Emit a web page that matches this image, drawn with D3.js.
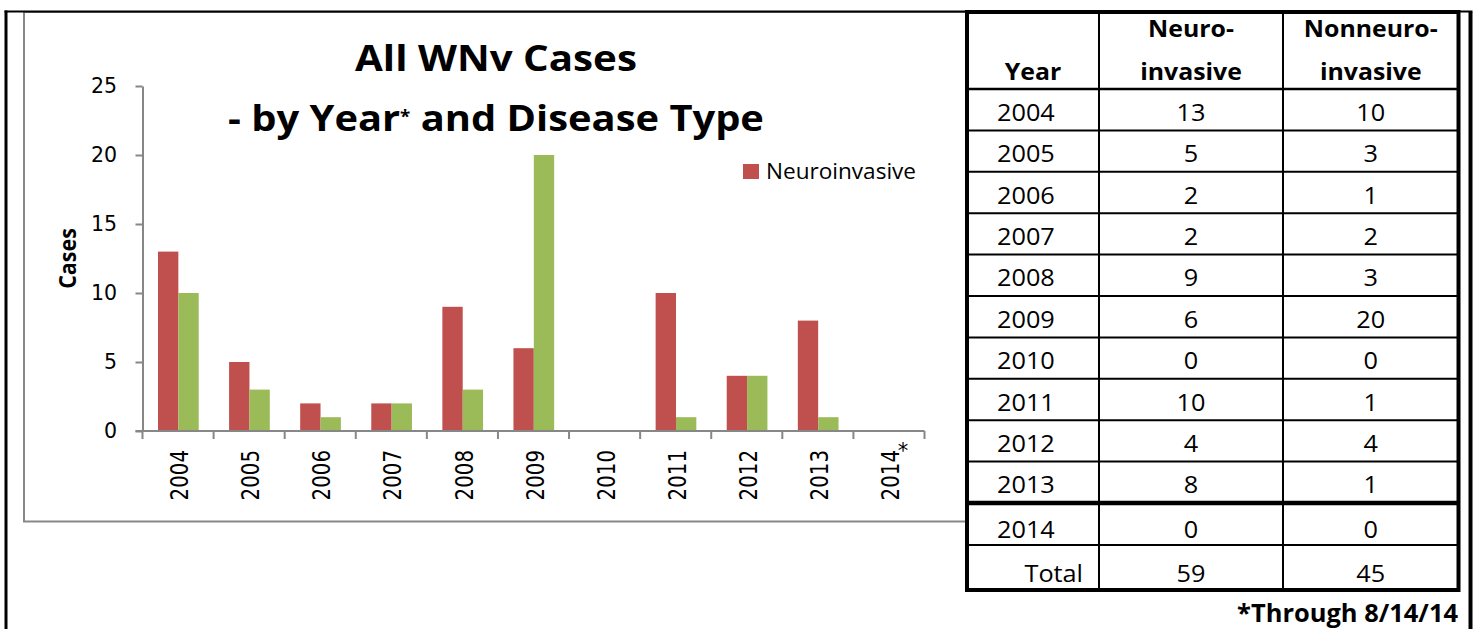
<!DOCTYPE html>
<html>
<head>
<meta charset="utf-8">
<script src="https://cdn.jsdelivr.net/npm/d3@7/dist/d3.min.js"></script>
<style>
  body { margin: 0; background: #fff; }
  svg { display: block; }
</style>
</head>
<body>
<svg id="chart" width="1479" height="629"></svg>
<script>
// ---- data ----
var years = ['2004', '2005', '2006', '2007', '2008', '2009', '2010', '2011', '2012', '2013', '2014*'];
var neuro = [13, 5, 2, 2, 9, 6, 0, 10, 4, 8, 0];
var nonneuro = [10, 3, 1, 2, 3, 20, 0, 1, 4, 1, 0];
var seriesNames = ['Neuroinvasive', 'Nonneuroinvasive'];
var legendNames = ['Neuroinvasive'];
var yTicks = [0, 5, 10, 15, 20, 25];
var tableHeads = [['Year'], ['Neuro-', 'invasive'], ['Nonneuro-', 'invasive']];
var totalLabel = 'Total';
var titleLines = ['All WNv Cases', '- by Year', '*', ' and Disease Type'];
var axisTitle = 'Cases';
var footnote = '*Through 8/14/14';

var colors = { Neuroinvasive: '#C0504D', Nonneuroinvasive: '#9BBB59' };
var SANS = "'Open Sans', sans-serif";
var AXF = "'DejaVu Sans', sans-serif";
var SX = 1.08;       // the source text is a bit wider than Open Sans
var GREY = '#878787';

var svg = d3.select('#chart');

// chart area border (grey)
svg.append('rect')
  .attr('x', 24).attr('y', 12).attr('width', 944).attr('height', 509.5)
  .attr('fill', '#fff').attr('stroke', GREY).attr('stroke-width', 2);

// scales
var x = d3.scaleBand().domain(years).range([142.5, 924.5]);
var x1 = d3.scaleBand().domain(seriesNames).range([15.5, 56.2]);
var y = d3.scaleLinear().domain([0, 25]).range([431, 86]);

// bars
var series = [neuro, nonneuro];
seriesNames.forEach(function (name, j) {
  svg.append('g').selectAll('rect')
    .data(years.map(function (yr, i) { return { yr: yr, v: series[j][i] }; }))
    .enter().append('rect')
    .attr('x', function (d) { return x(d.yr) + x1(name); })
    .attr('y', function (d) { return y(d.v); })
    .attr('width', x1.bandwidth())
    .attr('height', function (d) { return y(0) - y(d.v); })
    .attr('fill', colors[name]);
});

// y axis
var yAxis = svg.append('g')
  .attr('transform', 'translate(142.5,0)')
  .call(d3.axisLeft(y).tickValues(yTicks).tickSize(7).tickPadding(18.5).tickSizeOuter(0));
yAxis.select('.domain').attr('stroke', GREY).attr('stroke-width', 2);
yAxis.selectAll('.tick line').attr('stroke', GREY).attr('stroke-width', 2);
yAxis.selectAll('.tick text')
  .attr('font-family', AXF).attr('font-size', 20.5).attr('fill', '#000');

// x axis: line, boundary ticks, rotated labels
var xg = svg.append('g');
xg.append('line')
  .attr('x1', x.range()[0] - 7).attr('x2', x.range()[1])
  .attr('y1', y(0)).attr('y2', y(0))
  .attr('stroke', GREY).attr('stroke-width', 2);
xg.selectAll('line.tk')
  .data(d3.range(years.length + 1))
  .enter().append('line').attr('class', 'tk')
  .attr('x1', function (i) { return x.range()[0] + i * x.step(); })
  .attr('x2', function (i) { return x.range()[0] + i * x.step(); })
  .attr('y1', y(0)).attr('y2', y(0) + 8)
  .attr('stroke', GREY).attr('stroke-width', 2);
xg.selectAll('text.lab')
  .data(years)
  .enter().append('text').attr('class', 'lab')
  .attr('transform', function (d) {
    return 'translate(' + (x(d) + x.bandwidth() / 2 + 1) + ',' + 450 + ') scale(1.28,1) rotate(-90)';
  })
  .attr('text-anchor', 'end').attr('dy', '0.36em')
  .attr('font-family', AXF).attr('font-size', 19.8)
  .text(function (d) { return d.replace('*', ''); });
xg.selectAll('text.star')
  .data(years.filter(function (d) { return d.indexOf('*') >= 0; }))
  .enter().append('text').attr('class', 'star')
  .attr('x', function (d) { return x(d) + x.bandwidth() / 2 + 14; })
  .attr('y', 458).attr('text-anchor', 'middle')
  .attr('font-family', AXF).attr('font-size', 21)
  .text('*');

// axis title
svg.append('text')
  .attr('transform', 'translate(67.5,' + ((y(0) + y(25)) / 2) + ') scale(1.1,1) rotate(-90)')
  .attr('text-anchor', 'middle').attr('dy', '0.36em')
  .attr('font-family', SANS).attr('font-weight', 700).attr('font-size', 21.5)
  .text(axisTitle);

// title
function fitX(sel, w) {
  var n = sel.node().getBBox().width;
  return w / n;
}
var t1 = svg.append('text')
  .attr('text-anchor', 'middle')
  .attr('font-family', SANS).attr('font-weight', 700).attr('font-size', 36)
  .text(titleLines[0]);
t1.attr('transform', 'translate(496,70.5) scale(' + fitX(t1, 282) + ',1)');
var t2 = svg.append('text')
  .attr('text-anchor', 'middle')
  .attr('font-family', SANS).attr('font-weight', 700).attr('font-size', 36);
t2.append('tspan').text(titleLines[1]);
t2.append('tspan').attr('font-size', 17).attr('dy', -8).text(titleLines[2]);
t2.append('tspan').attr('dy', 8).text(titleLines[3]);
t2.attr('transform', 'translate(496,130.5) scale(' + fitX(t2, 536) + ',1)');

// legend
var leg = svg.append('g').attr('transform', 'translate(743,164)');
leg.selectAll('rect').data(legendNames).enter().append('rect')
  .attr('width', 16).attr('height', 15).attr('fill', function (d) { return colors[d]; });
leg.selectAll('text').data(legendNames).enter().append('text')
  .attr('transform', 'translate(23,14.5) scale(1.05,1)')
  .attr('font-family', SANS).attr('font-size', 21.5)
  .text(function (d) { return d; });

// ---- table ----
var colEdges = [967, 1099, 1283, 1458.5];
var headTop = 12, headBot = 89, bodyBot = 503;
var rowEdges = [headTop, headBot];
var nBody = years.length - 1;
for (var r = 1; r <= nBody; r++) rowEdges.push(headBot + r * (bodyBot - headBot) / nBody);
rowEdges.push(545, 590);

var tbl = svg.append('g');
tbl.append('rect')
  .attr('x', colEdges[0]).attr('y', headTop)
  .attr('width', colEdges[3] - colEdges[0]).attr('height', 590 - headTop)
  .attr('fill', '#fff');

var colMid = function (c) { return (colEdges[c] + colEdges[c + 1]) / 2; };

// header text
tableHeads.forEach(function (lines, c) {
  lines.forEach(function (s, k) {
    var base = lines.length === 1 ? 80 : (k === 0 ? 37 : 80);
    tbl.append('text')
      .attr('transform', 'translate(' + colMid(c) + ',' + base + ') scale(' + SX + ',1)')
      .attr('text-anchor', 'middle')
      .attr('font-family', SANS).attr('font-weight', 700).attr('font-size', 23)
      .text(s);
  });
});

// body rows
var rows = years.map(function (yr, i) {
  return [yr.replace('*', ''), neuro[i], nonneuro[i]];
});
rows.push([totalLabel, d3.sum(neuro), d3.sum(nonneuro)]);
rows.forEach(function (row, i) {
  var top = rowEdges[i + 1], bot = rowEdges[i + 2];
  var base = (top + bot) / 2 + (i >= nBody ? 14 : 11);
  row.forEach(function (v, c) {
    var anchor = c === 0 ? (i === rows.length - 1 ? 'end' : 'start') : 'middle';
    var xx = c === 0 ? (anchor === 'end' ? colEdges[1] - 16 : colEdges[0] + 30) : colMid(c);
    tbl.append('text')
      .attr('transform', 'translate(' + xx + ',' + base + ') scale(' + SX + ',1)')
      .attr('text-anchor', anchor)
      .attr('font-family', SANS).attr('font-size', 23.4)
      .text(v);
  });
});

// grid lines
rowEdges.slice(1, -1).forEach(function (ry, i) {
  tbl.append('line')
    .attr('x1', colEdges[0]).attr('x2', colEdges[3])
    .attr('y1', ry).attr('y2', ry)
    .attr('stroke', '#000')
    .attr('stroke-width', ry === bodyBot ? 4.5 : (i === 0 ? 2.5 : 2));
});
colEdges.slice(1, -1).forEach(function (cx) {
  tbl.append('line')
    .attr('x1', cx).attr('x2', cx).attr('y1', headTop).attr('y2', 590)
    .attr('stroke', '#000').attr('stroke-width', 2);
});
tbl.append('rect')
  .attr('x', colEdges[0]).attr('y', headTop)
  .attr('width', colEdges[3] - colEdges[0]).attr('height', 590 - headTop)
  .attr('fill', 'none').attr('stroke', '#000').attr('stroke-width', 4);

// footnote
var fn = svg.append('text')
  .attr('text-anchor', 'end')
  .attr('font-family', SANS).attr('font-weight', 700).attr('font-size', 25)
  .text(footnote);
fn.attr('transform', 'translate(1458,621.5) scale(' + fitX(fn, 221) + ',1)');

// outer frame (black)
svg.append('line').attr('x1', 4.5).attr('x2', 1472.5).attr('y1', 11.5).attr('y2', 11.5)
  .attr('stroke', '#000').attr('stroke-width', 2);
svg.append('line').attr('x1', 6).attr('x2', 6).attr('y1', 10.5).attr('y2', 629)
  .attr('stroke', '#000').attr('stroke-width', 3);
svg.append('line').attr('x1', 1470.5).attr('x2', 1470.5).attr('y1', 12).attr('y2', 629)
  .attr('stroke', '#000').attr('stroke-width', 4);
</script>
</body>
</html>
